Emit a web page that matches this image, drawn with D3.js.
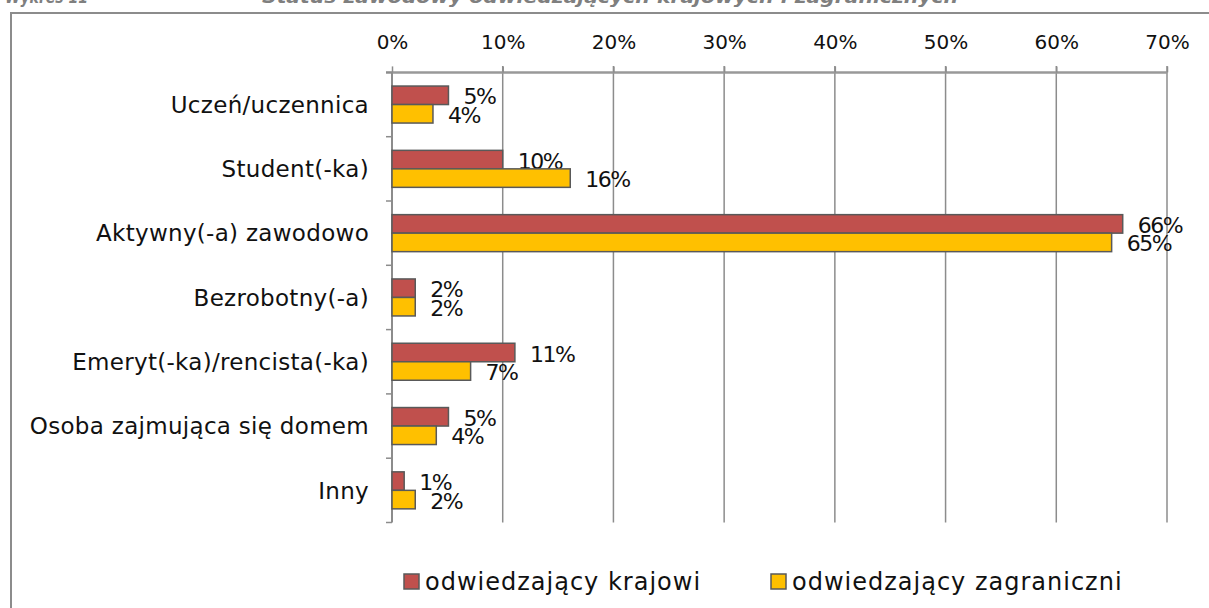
<!DOCTYPE html>
<html>
<head>
  <meta charset="utf-8">
  <title>Status zawodowy odwiedzających</title>
  <script src="https://d3js.org/d3.v7.min.js"></script>
  <style>
    body { margin: 0; background: #fff; }
    svg text { font-family: "DejaVu Sans", sans-serif; fill: #111; }
    .grid line { stroke: #8c8c8c; stroke-width: 1.5; }
    .bar { stroke: #595959; stroke-width: 1.5; }
    .title { font-style: italic; font-weight: bold; font-size: 18px; fill: #7f7f7f; }
  </style>
</head>
<body>
  <script>
    var categories = ["Uczeń/uczennica", "Student(-ka)", "Aktywny(-a) zawodowo", "Bezrobotny(-a)",
                      "Emeryt(-ka)/rencista(-ka)", "Osoba zajmująca się domem", "Inny"];
    var seriesNames = ["odwiedzający krajowi", "odwiedzający zagraniczni"];
    var krajowi = [5.1, 10, 66, 2.1, 11.1, 5.1, 1.1];
    var zagraniczni = [3.7, 16.1, 65, 2.1, 7.1, 4, 2.1];
    var krajowiLabels = ["5%", "10%", "66%", "2%", "11%", "5%", "1%"];
    var zagraniczniLabels = ["4%", "16%", "65%", "2%", "7%", "4%", "2%"];
    var xTicks = [0, 10, 20, 30, 40, 50, 60, 70];
    var colors = ["#c0504d", "#ffc000"];

    var W = 1209, H = 608;
    var svg = d3.select("body").append("svg")
        .attr("width", W)
        .attr("height", H);

    // title, cut off by the top edge
    svg.append("text").attr("class", "title").attr("x", 5).attr("y", 3)
        .attr("textLength", 83).attr("lengthAdjust", "spacingAndGlyphs")
        .text("Wykres 11");
    svg.append("text").attr("class", "title").attr("x", 262).attr("y", 3)
        .attr("textLength", 696).attr("lengthAdjust", "spacingAndGlyphs")
        .text("Status zawodowy odwiedzających krajowych i zagranicznych");

    // chart frame
    svg.append("rect")
        .attr("x", 11).attr("y", 13)
        .attr("width", 1210).attr("height", 620)
        .attr("fill", "none")
        .attr("stroke", "#8c8c8c")
        .attr("stroke-width", 2);

    var x = d3.scaleLinear().domain([0, 70]).range([392, 1167]);
    var y = d3.scaleBand().domain(categories).range([72.4, 522.5]);
    var inner = d3.scaleBand().domain(seriesNames).range([-18.5, 18.5]);

    // gridlines
    svg.append("g").attr("class", "grid")
      .selectAll("line").data(xTicks.slice(1)).join("line")
        .attr("x1", d => x(d)).attr("x2", d => x(d))
        .attr("y1", 66).attr("y2", 522.5);

    // top axis
    var xAxis = d3.axisTop(x).tickValues(xTicks).tickSize(6).tickFormat(d => d + "%");
    var gx = svg.append("g").attr("transform", "translate(0,72.4)").call(xAxis);
    gx.select(".domain").attr("stroke", "#999").attr("stroke-width", 2.5)
        .attr("d", "M386,0H" + x(70));
    gx.selectAll(".tick line").attr("stroke", "#8c8c8c").attr("stroke-width", 1.5);
    gx.selectAll(".tick text").attr("font-size", 20).attr("y", -23)
        .attr("font-family", "DejaVu Sans").attr("fill", "#111");

    // left axis
    var gy = svg.append("g").attr("transform", "translate(392,0)");
    var bounds = [72.4].concat(categories.map(c => y(c) + y.bandwidth()));
    gy.selectAll(".sep").data(bounds).join("line")
        .attr("x1", -6).attr("x2", 0)
        .attr("y1", d => d).attr("y2", d => d)
        .attr("stroke", "#8c8c8c").attr("stroke-width", 1.5);
    gy.append("line").attr("x1", 0).attr("x2", 0).attr("y1", 72.4).attr("y2", 522.5)
        .attr("stroke", "#8c8c8c").attr("stroke-width", 2);

    svg.append("g").selectAll("text").data(categories).join("text")
        .attr("x", 369)
        .attr("y", d => y(d) + y.bandwidth() / 2 + 8.3)
        .attr("text-anchor", "end")
        .attr("font-size", 23)
        .attr("letter-spacing", 0.3)
        .text(d => d);

    // bars
    var series = [krajowi, zagraniczni];
    var seriesLabels = [krajowiLabels, zagraniczniLabels];
    series.forEach(function(vals, si) {
      var rows = categories.map((c, i) => ({ cat: c, v: vals[i], lab: seriesLabels[si][i] }));
      var yOff = d => y(d.cat) + y.bandwidth() / 2 + inner(seriesNames[si]);
      svg.append("g").selectAll("rect").data(rows).join("rect")
          .attr("class", "bar")
          .attr("fill", colors[si])
          .attr("x", x(0))
          .attr("y", yOff)
          .attr("width", d => x(d.v) - x(0))
          .attr("height", inner.bandwidth());
      svg.append("g").selectAll("text").data(rows).join("text")
          .attr("x", d => x(d.v) + 15)
          .attr("y", d => yOff(d) + inner.bandwidth() / 2 + 9)
          .attr("font-size", 22)
          .attr("letter-spacing", -1.5)
          .text(d => d.lab);
    });

    // legend
    var legendX = [404, 771];
    var lg = svg.append("g").selectAll("g").data(seriesNames).join("g")
        .attr("transform", (d, i) => "translate(" + legendX[i] + ",574)");
    lg.append("rect")
        .attr("width", 15).attr("height", 15)
        .attr("fill", (d, i) => colors[i])
        .attr("stroke", "#595959").attr("stroke-width", 1.5);
    lg.append("text")
        .attr("x", 21).attr("y", 16)
        .attr("font-size", 24)
        .attr("letter-spacing", 1)
        .text(d => d);
  </script>
</body>
</html>
